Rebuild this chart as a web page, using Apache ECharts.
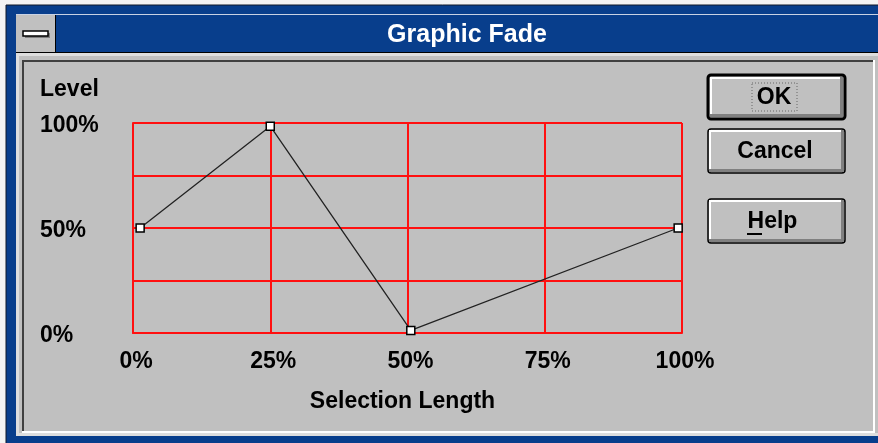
<!DOCTYPE html>
<html><head><meta charset="utf-8">
<script src="https://cdn.jsdelivr.net/npm/echarts@6/dist/echarts.min.js"></script>
<style>html,body{margin:0;padding:0;background:#c0c0c0}#c{width:878px;height:443px}</style>
</head><body><div id="c"></div>
<script>
// ---- data ----
const pointX = [1.3, 25, 50.6, 99.3];      // Selection Length (%)
const pointY = [50, 98.5, 1.2, 50];        // Level (%)
const xTickLabels = ['0%', '25%', '50%', '75%', '100%'];
const xTickValues = [0, 25, 50, 75, 100];
const yTickValues = [0, 50, 100];
const yTickLabels = ['0%', '50%', '100%'];
const dialogTitle = 'Graphic Fade';
const yAxisTitle = 'Level';
const xAxisTitle = 'Selection Length';
const buttonLabels = ['OK', 'Cancel', 'Help'];

const FONT = '"Liberation Sans", Arial, sans-serif';
const BLUE = '#083e8c';
const GRAY = '#c0c0c0';

function rect(x, y, w, h, fill, extra) {
  return Object.assign({ type: 'rect', shape: { x, y, width: w, height: h }, style: { fill }, silent: true }, extra || {});
}
function txt(x, y, t, color, size, align) {
  return { type: 'text', x, y, silent: true,
    style: { text: t, fill: color, font: 'bold ' + size + 'px ' + FONT, textAlign: align || 'center', textVerticalAlign: 'middle' } };
}
function button(x, y, w, h, label, isDefault, tx, underline) {
  const els = [];
  const bw = isDefault ? 3 : 1.5;
  els.push({ type: 'rect', shape: { x, y, width: w, height: h, r: 3 }, style: { fill: GRAY, stroke: '#000', lineWidth: bw }, silent: true });
  const o = isDefault ? 2 : 1;
  els.push(rect(x + o, y + o, w - 2 * o, 2, '#ffffff'));
  els.push(rect(x + o, y + o, 2, h - 2 * o, '#ffffff'));
  els.push(rect(x + o, y + h - o - 3, w - 2 * o, 3, '#808080'));
  els.push(rect(x + w - o - 3, y + o, 3, h - 2 * o, '#808080'));
  els.push(txt(tx, y + h / 2 + 0.5, label, '#000', 23));
  if (isDefault) {
    els.push({ type: 'rect', shape: { x: 752, y: y + 8, width: 45, height: h - 16 }, style: { fill: 'none', stroke: '#666', lineWidth: 1, lineDash: [1, 2] }, silent: true });
  }
  if (underline) els.push(rect(underline[0], underline[1], underline[2], 2, '#000'));
  return els;
}

const graphics = [
  rect(0, 0, 878, 443, '#f4f4f4'),
  { type: 'rect', shape: { x: 6, y: 5, width: 873, height: 439 }, style: { fill: BLUE, stroke: '#101828', lineWidth: 1 }, silent: true },
  rect(16, 14, 862, 1, '#c8d2e4'),
  rect(16, 52, 862, 1, '#000'),
  rect(16, 15, 39, 37, GRAY),
  rect(55, 15, 1, 37, '#000'),
  rect(25, 33, 25, 5, '#808080'),
  { type: 'rect', shape: { x: 23, y: 31, width: 25, height: 5 }, style: { fill: '#fff', stroke: '#000', lineWidth: 1.5 }, silent: true },
  rect(16, 53, 862, 383, GRAY),
  rect(16, 53, 862, 3, '#dedede'),
  rect(16, 53, 3, 383, '#dedede'),
  rect(16, 433, 862, 3, '#dedede'),
  rect(22, 60, 851, 2, '#404040'),
  rect(22, 60, 2, 372, '#404040'),
  rect(22, 431, 853, 2, '#ffffff'),
  rect(873, 60, 2, 373, '#ffffff'),
  txt(467, 35, dialogTitle, '#ffffff', 25),
  txt(40, 90, yAxisTitle, '#000', 23, 'left')
].concat(
  button(708, 75, 137, 44, buttonLabels[0], true, 774),
  button(708, 129, 137, 44, buttonLabels[1], false, 775),
  button(708, 199, 137, 44, buttonLabels[2], false, 772.5, [747, 233, 15])
);

const chart = echarts.init(document.getElementById('c'));
chart.setOption({
  animation: false,
  backgroundColor: GRAY,
  graphic: { elements: graphics },
  grid: { left: 133, top: 123, width: 549, height: 210, show: true, backgroundColor: '#ffffff', borderColor: '#ff1010', borderWidth: 2 },
  xAxis: {
    type: 'value', min: 0, max: 100, interval: 25,
    axisLine: { show: true, lineStyle: { color: '#ff1010', width: 2 } },
    axisTick: { show: false },
    splitLine: { show: true, lineStyle: { color: '#ff1010', width: 2 } },
    axisLabel: { margin: 17, color: '#000', fontFamily: FONT, fontWeight: 'bold', fontSize: 23, padding: [0, 0, 0, 6],
      formatter: v => { const i = xTickValues.indexOf(v); return i >= 0 ? xTickLabels[i] : ''; } },
    name: xAxisTitle, nameLocation: 'middle', nameGap: 57,
    nameTextStyle: { color: '#000', fontFamily: FONT, fontWeight: 'bold', fontSize: 23, padding: [0, 10, 0, 0] }
  },
  yAxis: {
    type: 'value', min: 0, max: 100, interval: 25,
    axisLine: { show: true, lineStyle: { color: '#ff1010', width: 2 } },
    axisTick: { show: false },
    splitLine: { show: true, lineStyle: { color: '#ff1010', width: 2 } },
    axisLabel: { margin: 93, align: 'left', color: '#000', fontFamily: FONT, fontWeight: 'bold', fontSize: 23,
      rich: { t: { fontFamily: FONT, fontWeight: 'bold', fontSize: 23, color: '#000', padding: [6, 0, 0, 0] } },
      formatter: v => { const i = yTickValues.indexOf(v); return i >= 0 ? '{t|' + yTickLabels[i] + '}' : ''; } }
  },
  series: [{
    type: 'line',
    data: pointX.map((x, i) => [x, pointY[i]]),
    symbol: 'rect', symbolSize: 8, showSymbol: true,
    lineStyle: { color: '#222', width: 1.3 },
    itemStyle: { color: '#ffffff', borderColor: '#000', borderWidth: 1.5 },
    z: 5
  }]
});
</script></body></html>
